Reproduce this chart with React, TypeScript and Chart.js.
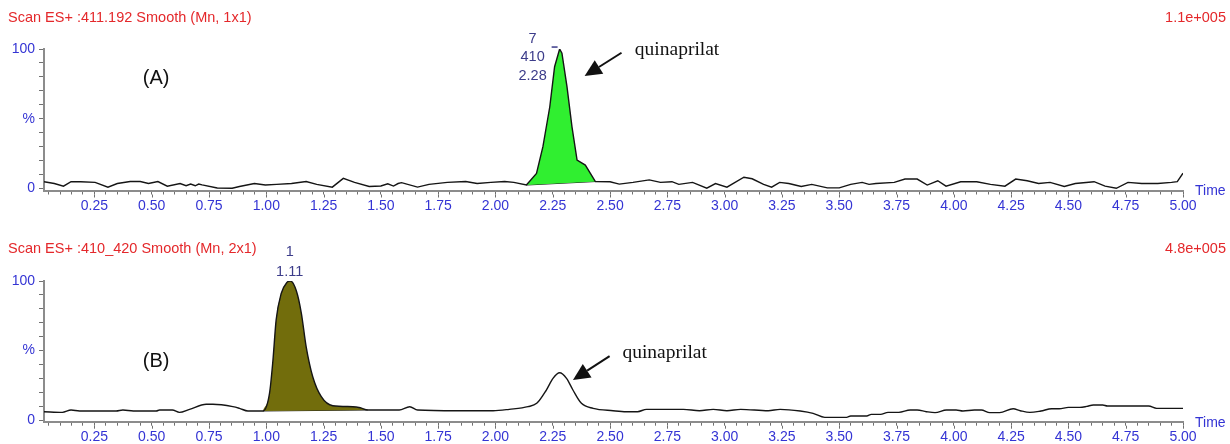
import { useEffect, useRef } from 'react';
import { Chart, registerables } from 'chart.js';

Chart.register(...registerables);

// ---------- data ----------
const timeA = [0.03, 0.075, 0.115, 0.148, 0.19, 0.253, 0.309, 0.35, 0.406, 0.45, 0.486, 0.527, 0.568, 0.624, 0.65, 0.67, 0.69, 0.705, 0.72, 0.786, 0.851, 0.883, 0.948, 0.996, 1.045, 1.11, 1.174, 1.22, 1.288, 1.336, 1.385, 1.449, 1.5, 1.53, 1.555, 1.575, 1.59, 1.66, 1.71, 1.79, 1.87, 1.92, 1.98, 2.04, 2.08, 2.135, 2.179, 2.207, 2.237, 2.258, 2.28, 2.29, 2.312, 2.334, 2.356, 2.392, 2.436, 2.5, 2.54, 2.6, 2.671, 2.72, 2.77, 2.8, 2.86, 2.922, 2.96, 3.01, 3.084, 3.12, 3.17, 3.205, 3.24, 3.28, 3.334, 3.38, 3.448, 3.5, 3.55, 3.6, 3.63, 3.66, 3.74, 3.787, 3.84, 3.884, 3.93, 3.966, 4.03, 4.1, 4.16, 4.223, 4.27, 4.32, 4.37, 4.42, 4.482, 4.53, 4.612, 4.66, 4.709, 4.76, 4.82, 4.89, 4.95, 4.975, 5.0];
const valueA = [4.9, 3.6, 1.7, 4.9, 4.9, 4.4, 1.0, 3.6, 5.0, 5.0, 3.6, 5.0, 1.7, 3.6, 2.0, 3.2, 2.0, 3.2, 2.6, 0.4, 0.2, 1.5, 3.6, 2.5, 3.0, 3.6, 5.0, 3.0, 1.0, 7.3, 4.4, 1.5, 1.8, 3.4, 1.8, 3.6, 4.2, 1.0, 3.0, 4.4, 5.0, 3.6, 4.4, 5.0, 4.4, 2.5, 10.9, 30, 58.6, 87.3, 100, 97, 73, 44, 20.4, 16.8, 5.0, 4.9, 3.2, 4.4, 6.2, 4.4, 4.9, 3.0, 4.4, 0.3, 3.6, 1.0, 8.1, 7.0, 3.0, 1.0, 4.4, 3.6, 1.5, 3.0, 0.5, 0.5, 3.0, 4.4, 3.0, 3.6, 4.4, 6.8, 6.8, 2.5, 5.6, 1.7, 4.9, 4.9, 3.0, 1.7, 6.8, 5.6, 3.6, 4.4, 1.5, 3.6, 4.9, 1.7, 0.2, 4.4, 3.6, 3.6, 4.4, 5.0, 11];

const timeB = [0.03, 0.11, 0.148, 0.185, 0.345, 0.374, 0.42, 0.52, 0.534, 0.59, 0.621, 0.665, 0.738, 0.767, 0.854, 0.883, 0.92, 0.985, 1.014, 1.029, 1.043, 1.065, 1.09, 1.105, 1.131, 1.153, 1.174, 1.203, 1.24, 1.29, 1.378, 1.41, 1.443, 1.58, 1.626, 1.66, 1.83, 1.99, 2.06, 2.142, 2.18, 2.222, 2.251, 2.28, 2.31, 2.338, 2.375, 2.426, 2.513, 2.57, 2.62, 2.659, 2.82, 2.89, 2.95, 3.01, 3.07, 3.19, 3.242, 3.33, 3.386, 3.437, 3.532, 3.55, 3.62, 3.64, 3.68, 3.713, 3.76, 3.81, 3.84, 3.88, 3.918, 3.968, 4.01, 4.04, 4.09, 4.12, 4.157, 4.2, 4.259, 4.29, 4.332, 4.38, 4.427, 4.46, 4.5, 4.55, 4.58, 4.609, 4.65, 4.67, 4.85, 4.885, 5.0];
const valueB = [6.0, 5.5, 7.2, 6.5, 6.5, 7.2, 6.5, 6.5, 7.2, 7.2, 5.5, 7.7, 11.3, 11.3, 9.6, 8.4, 6.5, 6.5, 19.2, 43, 72, 91, 99, 100, 93, 76.8, 52.7, 31, 16.8, 10.3, 9.6, 8.8, 7.2, 7.2, 9.6, 7.2, 6.7, 6.7, 7.7, 9.6, 12, 21.6, 30, 34, 30, 21.6, 12, 8.4, 6.7, 6.0, 6.0, 7.7, 7.7, 6.7, 7.7, 6.7, 7.7, 6.7, 7.7, 6.5, 4.8, 1.9, 1.9, 2.9, 2.9, 4.1, 4.1, 5.5, 5.5, 7.2, 7.2, 6.0, 5.3, 7.2, 7.2, 6.5, 7.2, 7.2, 5.3, 5.3, 8.1, 6.7, 5.5, 6.5, 8.1, 8.1, 9.1, 9.1, 9.8, 10.8, 10.8, 10.1, 10.1, 8.4, 8.4];

// integrated peak windows: [start time, end time] and baseline values at both ends
const peakWindowA = [2.135, 2.436];
const peakBaseA = [2.5, 5.0];
const peakWindowB = [0.985, 1.443];
const peakBaseB = [6.5, 7.2];

// peak annotation labels
const peakLabelsA = ['7', '410', '2.28'];
const peakLabelsB = ['1', '1.11'];

const titleA = 'Scan ES+ :411.192 Smooth (Mn, 1x1)';
const titleB = 'Scan ES+ :410_420 Smooth (Mn, 2x1)';
const scaleA = '1.1e+005';
const scaleB = '4.8e+005';

const xMin = 0.03;
const xMax = 5.0;
const xMinorStep = 0.05;
const xLabelStep = 0.25;
const yMinorStep = 10;

// ---------- styles ----------
const SANS = "'Liberation Sans', Arial, Helvetica, sans-serif";
const SERIF = "'Liberation Serif', 'Times New Roman', serif";
const BLUE = '#3434d4';
const RED = '#e4282b';
const NAVY = '#3c3c8a';
const AXIS = '#8c8c8c';
const TICK = '#707070';

type Note = { x: number; y: number; text: string; font: string; color: string; align: CanvasTextAlign };
type Arrow = { x1: number; y1: number; x2: number; y2: number };

type Panel = {
  time: number[];
  value: number[];
  win: number[];
  base: number[];
  fill: string;
  smooth: boolean;
  yMin: number;
  top: number;
  axisY: number;
  title: string;
  scaleText: string;
  titleY: number;
  notes: Note[];
  arrows: Arrow[];
  dash?: { x1: number; x2: number; y: number };
};

const panelA: Panel = {
  time: timeA,
  value: valueA,
  win: peakWindowA,
  base: peakBaseA,
  fill: '#30ef30',
  smooth: false,
  yMin: -1.4,
  top: 49,
  axisY: 190.5,
  title: titleA,
  scaleText: scaleA,
  titleY: 18,
  notes: [
    { x: 0.519, y: 79.2, text: '(A)', font: `20px ${SANS}`, color: '#111', align: 'center' },
    { x: 2.162, y: 107.2, text: peakLabelsA[0], font: `14.5px ${SANS}`, color: NAVY, align: 'center' },
    { x: 2.162, y: 94.3, text: peakLabelsA[1], font: `14.5px ${SANS}`, color: NAVY, align: 'center' },
    { x: 2.162, y: 80.6, text: peakLabelsA[2], font: `14.5px ${SANS}`, color: NAVY, align: 'center' },
    { x: 2.608, y: 99.3, text: 'quinaprilat', font: `19.5px ${SERIF}`, color: '#111', align: 'left' },
  ],
  arrows: [{ x1: 2.55, y1: 97.3, x2: 2.389, y2: 80.6 }],
  dash: { x1: 2.245, x2: 2.271, y: 101.4 },
};

const panelB: Panel = {
  time: timeB,
  value: valueB,
  win: peakWindowB,
  base: peakBaseB,
  fill: '#726d0c',
  smooth: true,
  yMin: -1.2,
  top: 59,
  axisY: 199.7,
  title: titleB,
  scaleText: scaleB,
  titleY: 27,
  notes: [
    { x: 0.519, y: 41.9, text: '(B)', font: `20px ${SANS}`, color: '#111', align: 'center' },
    { x: 1.102, y: 120.9, text: peakLabelsB[0], font: `14.5px ${SANS}`, color: NAVY, align: 'center' },
    { x: 1.102, y: 106.5, text: peakLabelsB[1], font: `14.5px ${SANS}`, color: NAVY, align: 'center' },
    { x: 2.554, y: 48.2, text: 'quinaprilat', font: `19.5px ${SERIF}`, color: '#111', align: 'left' },
  ],
  arrows: [{ x1: 2.498, y1: 46.0, x2: 2.338, y2: 28.8 }],
};

const CANVAS_W = 1230;
const CANVAS_H = 222;
const X_AXIS_H = 30;
const Y_AXIS_W = 44;
const RIGHT_PAD = 47;

function makeOverlay(p: Panel) {
  return {
    id: 'overlay',
    afterDraw(chart: any) {
      const ctx: CanvasRenderingContext2D = chart.ctx;
      const xs = chart.scales.x;
      const ys = chart.scales.y;
      const area = chart.chartArea;
      ctx.save();
      // longer tick marks at the labelled times
      ctx.strokeStyle = TICK;
      ctx.lineWidth = 1;
      ctx.beginPath();
      for (const t of xs.ticks) {
        const c = Math.round(t.value * 100);
        if (c % Math.round(xLabelStep * 100) === 0) {
          const px = Math.round(xs.getPixelForValue(t.value)) + 0.5;
          ctx.moveTo(px, area.bottom + 4);
          ctx.lineTo(px, area.bottom + 7);
        }
      }
      ctx.stroke();

      ctx.textBaseline = 'middle';
      // header
      ctx.font = `14.5px ${SANS}`;
      ctx.fillStyle = RED;
      ctx.textAlign = 'left';
      ctx.fillText(p.title, 8, p.titleY);
      ctx.textAlign = 'right';
      ctx.fillText(p.scaleText, 1226, p.titleY);
      // axis name
      ctx.font = `14px ${SANS}`;
      ctx.fillStyle = BLUE;
      ctx.textAlign = 'left';
      ctx.fillText('Time', area.right + 12, area.bottom + 1);
      // notes
      for (const n of p.notes) {
        ctx.font = n.font;
        ctx.fillStyle = n.color;
        ctx.textAlign = n.align;
        ctx.fillText(n.text, xs.getPixelForValue(n.x), ys.getPixelForValue(n.y));
      }
      // peak top dash
      if (p.dash) {
        ctx.strokeStyle = NAVY;
        ctx.lineWidth = 1.5;
        ctx.beginPath();
        const yy = ys.getPixelForValue(p.dash.y);
        ctx.moveTo(xs.getPixelForValue(p.dash.x1), yy);
        ctx.lineTo(xs.getPixelForValue(p.dash.x2), yy);
        ctx.stroke();
      }
      // arrows
      for (const a of p.arrows) {
        const x1 = xs.getPixelForValue(a.x1);
        const y1 = ys.getPixelForValue(a.y1);
        const x2 = xs.getPixelForValue(a.x2);
        const y2 = ys.getPixelForValue(a.y2);
        const ang = Math.atan2(y2 - y1, x2 - x1);
        const hl = 17;
        const hw = 8;
        const bx = x2 - hl * Math.cos(ang);
        const by = y2 - hl * Math.sin(ang);
        ctx.strokeStyle = '#111';
        ctx.fillStyle = '#111';
        ctx.lineWidth = 2;
        ctx.beginPath();
        ctx.moveTo(x1, y1);
        ctx.lineTo(bx, by);
        ctx.stroke();
        ctx.beginPath();
        ctx.moveTo(x2, y2);
        ctx.lineTo(bx + hw * Math.sin(ang), by - hw * Math.cos(ang));
        ctx.lineTo(bx - hw * Math.sin(ang), by + hw * Math.cos(ang));
        ctx.closePath();
        ctx.fill();
      }
      ctx.restore();
    },
  };
}

function makeConfig(p: Panel): any {
  const pts = p.time.map((t, i) => ({ x: t, y: p.value[i] }));
  const peak = pts.filter((q) => q.x >= p.win[0] - 1e-9 && q.x <= p.win[1] + 1e-9);
  const base = [
    { x: p.win[0], y: p.base[0] },
    { x: p.win[1], y: p.base[1] },
  ];
  const lineOpts = p.smooth ? { cubicInterpolationMode: 'monotone' } : { tension: 0 };
  return {
    type: 'line',
    data: {
      datasets: [
        { data: pts, borderColor: '#151515', borderWidth: 1.4, pointRadius: 0, fill: false, ...lineOpts },
        { data: peak, borderColor: 'rgba(0,0,0,0)', borderWidth: 0, backgroundColor: p.fill, pointRadius: 0, fill: '+1', ...lineOpts },
        { data: base, borderColor: '#222', borderWidth: 1, pointRadius: 0, fill: false },
      ],
    },
    options: {
      animation: false,
      responsive: false,
      events: [],
      layout: { padding: { left: 0, right: RIGHT_PAD, top: p.top, bottom: CANVAS_H - p.axisY - X_AXIS_H } },
      plugins: { legend: { display: false }, tooltip: { enabled: false }, title: { display: false } },
      scales: {
        x: {
          type: 'linear',
          min: xMin,
          max: xMax,
          afterFit: (s: any) => {
            s.height = X_AXIS_H;
          },
          border: { display: true, color: AXIS, width: 2 },
          grid: { display: true, drawOnChartArea: false, drawTicks: true, tickLength: 4, tickColor: TICK, tickWidth: 1 },
          ticks: {
            stepSize: xMinorStep,
            includeBounds: false,
            autoSkip: false,
            maxRotation: 0,
            minRotation: 0,
            padding: 3,
            color: BLUE,
            font: { family: SANS, size: 14 },
            callback: (v: number) => {
              const c = Math.round(v * 100);
              return c % Math.round(xLabelStep * 100) === 0 ? (c / 100).toFixed(2) : '';
            },
          },
        },
        y: {
          type: 'linear',
          min: p.yMin,
          max: 100,
          afterFit: (s: any) => {
            s.width = Y_AXIS_W;
          },
          border: { display: true, color: AXIS, width: 2 },
          grid: { display: true, drawOnChartArea: false, drawTicks: true, tickLength: 5, tickColor: TICK, tickWidth: 1 },
          ticks: {
            stepSize: yMinorStep,
            includeBounds: false,
            autoSkip: false,
            padding: 4,
            color: BLUE,
            font: { family: SANS, size: 14 },
            callback: (v: number) => (v === 100 ? '100' : v === 50 ? '%' : v === 0 ? '0' : ''),
          },
        },
      },
    },
    plugins: [makeOverlay(p)],
  };
}

export default function App() {
  const refA = useRef<HTMLCanvasElement>(null);
  const refB = useRef<HTMLCanvasElement>(null);
  useEffect(() => {
    const charts: Chart[] = [];
    if (refA.current) charts.push(new Chart(refA.current, makeConfig(panelA)));
    if (refB.current) charts.push(new Chart(refB.current, makeConfig(panelB)));
    return () => charts.forEach((c) => c.destroy());
  }, []);
  return (
    <div style={{ position: 'absolute', left: 0, top: 0, width: CANVAS_W, height: CANVAS_H * 2, background: '#fff' }}>
      <canvas ref={refA} width={CANVAS_W} height={CANVAS_H} style={{ display: 'block', width: CANVAS_W, height: CANVAS_H }} />
      <canvas ref={refB} width={CANVAS_W} height={CANVAS_H} style={{ display: 'block', width: CANVAS_W, height: CANVAS_H }} />
    </div>
  );
}
